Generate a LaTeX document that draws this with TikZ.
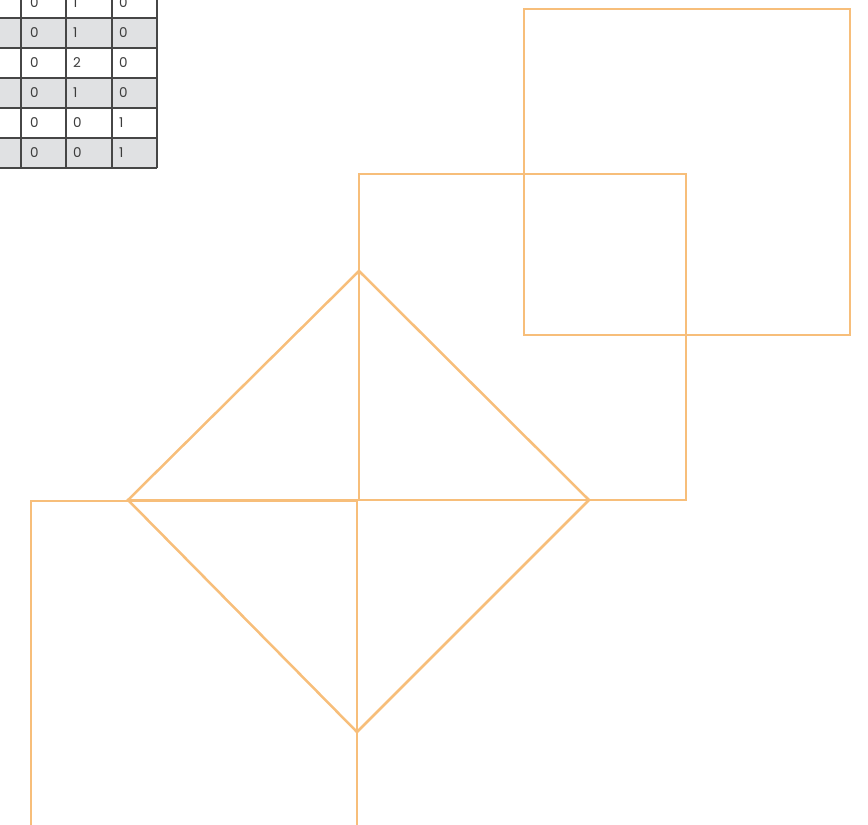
\documentclass[tikz,border=0pt]{standalone}
\usepackage{fontspec}
\setmainfont{Poppins}
\definecolor{sq}{RGB}{247,190,122}
\definecolor{rowgray}{RGB}{224,225,227}
\definecolor{grid}{RGB}{70,70,70}
\definecolor{txt}{RGB}{60,60,60}
\begin{document}
\begin{tikzpicture}[x=1pt,y=-1pt,
  shape line/.style={draw=sq,line width=2.5pt,line join=miter},
  gridline/.style={draw=grid,line width=1.1pt},
  celltext/.style={anchor=west,inner sep=0pt,font=\fontsize{13.5}{15}\selectfont,text=txt}]
\useasboundingbox (0,0) rectangle (868,825);
% table shading
\foreach \y in {18,78,138} {\fill[rowgray] (-5,\y) rectangle (157,\y+30);}
% table grid
\foreach \y in {18,48,78,108,138,168} {\draw[gridline] (-5,\y) -- (157,\y);}
\foreach \x in {21,66,112,157} {\draw[gridline] (\x,-5) -- (\x,168);}
% table text
\foreach \r/\a/\b/\c [count=\i from 0] in {3/0/1/0,33/0/1/0,63/0/2/0,93/0/1/0,123/0/0/1,153/0/0/1} {
  \node[celltext] (c\i a) at (30,\r) {\a};
  \node[celltext] (c\i b) at (73,\r) {\b};
  \node[celltext] (c\i c) at (119,\r) {\c};
}
% squares
\draw[shape line] (524,9) rectangle (850,335);
\draw[shape line] (359,174) rectangle (686,500);
\draw[shape line] (31,830) -- (31,501) -- (357,501) -- (357,830);
% diamond
\coordinate (dt) at (359,271);
\coordinate (dl) at (128,500);
\coordinate (dr) at (589,500);
\coordinate (db) at (357,732);
\draw[shape line] (dt) -- (dr) -- (db) -- (dl) -- cycle;
\draw[shape line] (dl) -- (dr);
\end{tikzpicture}
\end{document}
